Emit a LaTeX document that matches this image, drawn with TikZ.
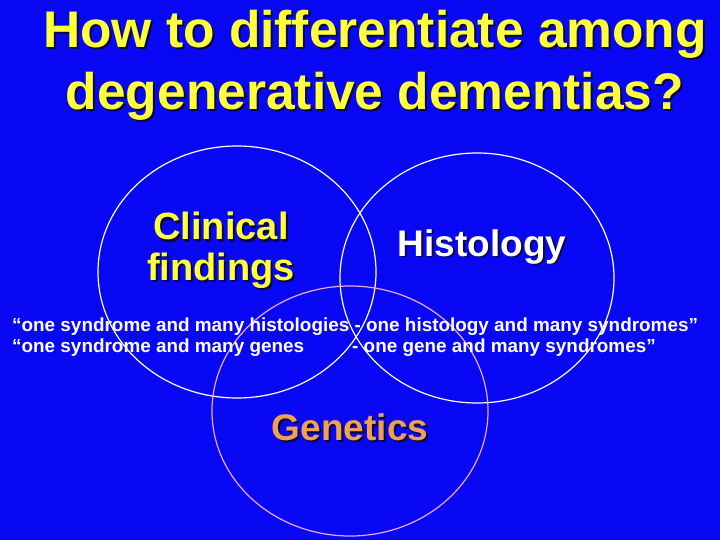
\documentclass[tikz,border=0pt]{standalone}
\usepackage{fontspec}
\setmainfont{Liberation Sans}
\definecolor{bg}{RGB}{8,8,245}
\definecolor{ttl}{RGB}{255,255,60}
\definecolor{gen}{RGB}{240,160,80}
\definecolor{pinkc}{RGB}{235,170,215}
\definecolor{shd}{RGB}{10,10,60}
\begin{document}
\begin{tikzpicture}[x=1pt,y=-1pt,
  lbl/.style={inner sep=0pt, anchor=base, font=\bfseries\fontsize{#1}{#1}\selectfont},
  quote/.style={inner sep=0pt, anchor=base west, text=white, font=\bfseries\fontsize{18.9}{19}\selectfont},
  ring/.style={line width=1.2pt}]
\fill[bg] (0,0) rectangle (720,540);
\useasboundingbox (0,0) rectangle (720,540);
% circles
\draw[ring, white] (237,272) ellipse [x radius=139, y radius=126];
\draw[ring, white] (477,278) ellipse [x radius=137, y radius=125];
\draw[ring, pinkc] (350,411) ellipse [x radius=138, y radius=125];
% title
\node[lbl=51.5, text=shd] (t1s) at (377,50) {How to differentiate among};
\node[lbl=51.5, text=ttl] (t1) at (375,48) {How to differentiate among};
\node[lbl=51.5, text=shd] (t2s) at (377,112) {degenerative dementias?};
\node[lbl=51.5, text=ttl] (t2) at (375,110) {degenerative dementias?};
% labels
\node[lbl=38, text=shd] (c1s) at (223,242) {Clinical};
\node[lbl=38, text=ttl] (c1) at (221,240) {Clinical};
\node[lbl=38, text=shd] (c2s) at (223,282) {findings};
\node[lbl=38, text=ttl] (c2) at (221,280) {findings};
\node[lbl=37, text=shd] (hs) at (484,258) {Histology};
\node[lbl=37, text=white] (h) at (482,256) {Histology};
\node[lbl=37, text=shd] (gs) at (352,442) {Genetics};
\node[lbl=37, text=gen] (g) at (350,440) {Genetics};
% quotes
\node[quote] (q1) at (12,331) {“one syndrome and many histologies - one histology and many syndromes”};
\node[quote] (q2) at (12,352) {“one syndrome and many genes};
\node[quote] (q3) at (352,352) {- one gene and many syndromes”};
\end{tikzpicture}
\end{document}
